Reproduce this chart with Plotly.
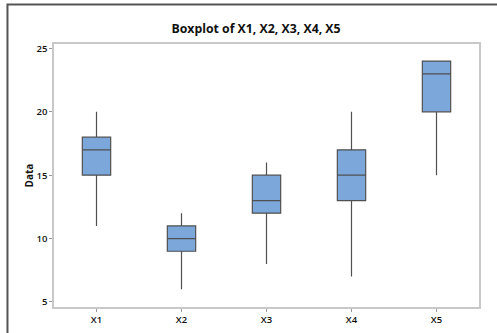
import plotly.graph_objects as go

categories = ["X1", "X2", "X3", "X4", "X5"]
lower_whisker = [11, 6, 8, 7, 15]
q1_vals = [15, 9, 12, 13, 20]
median_vals = [17, 10, 13, 15, 23]
q3_vals = [18, 11, 15, 17, 24]
upper_whisker = [20, 12, 16, 20, 24]
y_ticks = [5, 10, 15, 20, 25]

W, H = 497, 333
L, R, T, B = 54, 18.3, 44, 26.3
pw = W - L - R
ph = H - T - B

fig = go.Figure()
fig.add_trace(go.Box(
    x=categories,
    q1=q1_vals, median=median_vals, q3=q3_vals,
    lowerfence=lower_whisker, upperfence=upper_whisker,
    fillcolor="#7BA7DB",
    line=dict(color="#505050", width=1.2),
    width=1/3,
    whiskerwidth=0,
    boxpoints=False,
    showlegend=False,
    hoverinfo="skip",
))

def px_x(p):
    return (p - L) / pw

def px_y(p):
    return 1 - (p - T) / ph

fig.add_shape(type="path", xref="paper", yref="paper",
              path=f"M {px_x(7.5)},{px_y(340)} L {px_x(7.5)},{px_y(4.5)} L {px_x(500)},{px_y(4.5)}",
              line=dict(color="#555555", width=2))

fig.update_layout(
    width=W, height=H,
    margin=dict(l=L, r=R, t=T, b=B, autoexpand=False),
    paper_bgcolor="white", plot_bgcolor="white",
    font=dict(family="Open Sans", color="#222222"),
    title=dict(text="<b>Boxplot of X1, X2, X3, X4, X5</b>", xref="container", x=256 / W,
               xanchor="center", yref="container", y=1 - 28.5 / H, yanchor="middle",
               automargin=False, font=dict(size=12.3, color="#111111")),
    xaxis=dict(range=[-0.5, 4.5], showgrid=False, zeroline=False, automargin=False,
               showline=True, linecolor="#C8C8C8", linewidth=1.5, mirror=True,
               ticks="outside", ticklen=3, tickcolor="#999999",
               tickfont=dict(size=9.5, color="#111111", family="Open Sans", weight=600),
               fixedrange=True),
    yaxis=dict(range=[4.6, 25.35], showgrid=False, zeroline=False, automargin=False,
               tickvals=y_ticks,
               showline=True, linecolor="#C8C8C8", linewidth=1.5, mirror=True,
               ticks="outside", ticklen=3, tickcolor="#999999",
               tickfont=dict(size=9.5, color="#111111", family="Open Sans", weight=600),
               title=dict(text="<b>Data</b>", font=dict(size=10, color="#111111"), standoff=0),
               fixedrange=True),
)

fig.write_html("out.html", config={"displayModeBar": False},
               post_script="document.body.style.margin='0';document.body.style.overflow='hidden';")
